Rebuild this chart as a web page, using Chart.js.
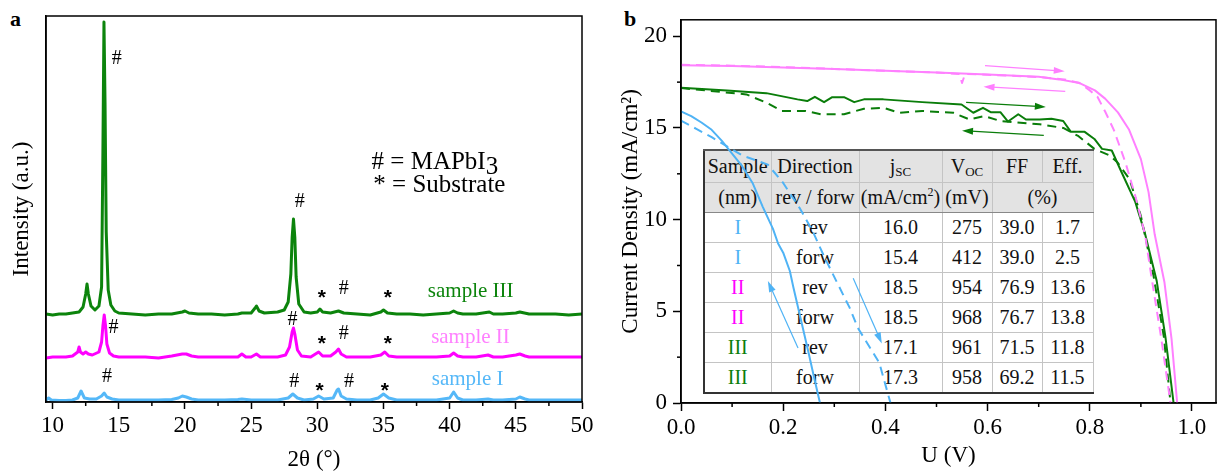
<!DOCTYPE html>
<html>
<head>
<meta charset="utf-8">
<script src="https://cdn.jsdelivr.net/npm/chart.js@4.4.0/dist/chart.umd.min.js"></script>
<style>
  html, body { margin: 0; padding: 0; background: #fff; }
  body { width: 1221px; height: 474px; position: relative; overflow: hidden; font-family: "Liberation Serif", "Times New Roman", serif; }
  #wrapA { position: absolute; left: 0; top: 0; width: 610px; height: 474px; }
  #wrapB { position: absolute; left: 610px; top: 0; width: 611px; height: 474px; z-index: 2; }
  .panel { position: absolute; font-weight: bold; font-size: 22px; top: 6px; }
  #jvTable { position: absolute; left: 703px; top: 149px; z-index: 1; width: 389px; table-layout: fixed;
             border-collapse: collapse; font-size: 20px; background: #fff; color: #111; }
  #jvTable th, #jvTable td { border: 1px solid #c4c4c4; padding: 0; text-align: center; font-weight: normal; white-space: nowrap; overflow: hidden; }
  #jvTable thead th { background: #e3e3e3; }
  #jvTable tr.h1 th { height: 31px; }
  #jvTable tr.h2 th { height: 29px; border-bottom: 1.5px solid #888; }
  #jvTable tbody td { height: 29px; }
  #jvTable { border-top: 2px solid #555; border-left: 2px solid #333; border-bottom: 2px solid #333; border-right: 1.5px solid #888; }
  #jvTable sub { font-size: 13px; vertical-align: -3px; line-height: 0; }
  #jvTable sup { font-size: 12px; vertical-align: 8px; line-height: 0; }
</style>
</head>
<body>
<div class="panel" style="left:10px">a</div>
<div class="panel" style="left:624px">b</div>
<div id="wrapA"><canvas id="xrdChart" width="610" height="474"></canvas></div>
<div id="wrapB"><canvas id="jvChart" width="611" height="474"></canvas></div>
<table id="jvTable">
  <colgroup>
    <col style="width:67px"><col style="width:88px"><col style="width:83px">
    <col style="width:50px"><col style="width:50px"><col style="width:51px">
  </colgroup>
  <thead>
    <tr class="h1"><th>Sample</th><th>Direction</th><th>j<sub>SC</sub></th><th>V<sub>OC</sub></th><th>FF</th><th>Eff.</th></tr>
    <tr class="h2"><th>(nm)</th><th>rev / forw</th><th>(mA/cm<sup>2</sup>)</th><th>(mV)</th><th colspan="2">(%)</th></tr>
  </thead>
  <tbody id="jvBody"></tbody>
</table>
<script>
// ---- panel a: XRD patterns (2θ in degrees, intensity in a.u., traces already offset) ----
const xrdTicks = [10, 15, 20, 25, 30, 35, 40, 45, 50];
const xrdMinor = [12.5, 17.5, 22.5, 27.5, 32.5, 37.5, 42.5, 47.5];

const s3Angle = [9.5, 10, 10.5, 11, 11.5, 12, 12.3, 12.5, 12.6, 12.7, 12.9, 13.2, 13.5, 13.7, 13.8, 13.88, 13.96, 14.05, 14.2, 14.4,
  14.7, 15, 16, 17, 18, 19, 19.8, 20, 20.3, 21, 22, 23, 24, 24.3, 25, 25.3, 25.4, 25.6, 26, 27,
  27.5, 27.8, 28.0, 28.1, 28.2, 28.3, 28.4, 28.6, 29, 29.5, 30, 30.2, 30.4, 31, 31.6, 32, 33, 34, 34.8, 35.0,
  35.3, 36, 37, 38, 39, 40, 40.3, 40.6, 41, 42, 43, 43.3, 44, 45, 45.3, 46, 47, 48, 49, 50];
const s3Int = [88, 87, 88, 88, 89, 90, 95, 108, 118, 108, 96, 92, 96, 115, 250, 380, 300, 170, 112, 97,
  91, 89, 88, 87, 88, 88, 90, 91, 89, 88, 88, 87, 88, 89, 89, 94, 96, 91, 89, 90,
  92, 100, 128, 165, 183, 165, 125, 98, 90, 89, 90, 93, 90, 89, 91, 89, 88, 87, 90, 92,
  89, 88, 88, 87, 88, 89, 91, 89, 88, 88, 90, 88, 88, 89, 90, 88, 88, 88, 87, 88];

const s2Angle = [9.5, 10, 11, 11.5, 11.9, 12.0, 12.1, 12.3, 12.5, 12.7, 13.0, 13.5, 13.7, 13.8, 13.9, 14.0, 14.1, 14.3, 14.6, 15,
  16, 17, 18, 19, 19.8, 20.1, 20.5, 21, 22, 23, 24, 24.3, 24.6, 25, 25.4, 25.7, 26, 27, 27.6, 27.9,
  28.1, 28.2, 28.3, 28.5, 28.8, 29.5, 30.1, 30.4, 31, 31.4, 31.6, 31.8, 32.2, 33, 34, 34.8, 35.1, 35.4, 36, 37,
  38, 39, 40, 40.3, 40.6, 41, 42, 42.9, 43.3, 44, 45, 45.3, 45.7, 46, 47, 48, 49, 50];
const s2Int = [44, 45, 45, 46, 50, 55, 50, 48, 50, 48, 47, 50, 60, 76, 87, 76, 58, 49, 46, 45,
  45, 45, 44, 46, 48, 48, 46, 45, 45, 45, 45, 48, 45, 45, 48, 45, 45, 45, 47, 55,
  70, 74, 68, 52, 46, 45, 50, 46, 46, 50, 53, 48, 45, 45, 45, 47, 50, 46, 45, 45,
  45, 45, 46, 49, 46, 45, 45, 47, 45, 45, 47, 48, 46, 45, 45, 45, 45, 45];

const s1Angle = [9.5, 9.7, 9.9, 10.5, 11, 11.5, 11.9, 12.15, 12.4, 12.8, 13.3, 13.7, 13.9, 14.1, 14.5, 15, 16, 17, 18, 19,
  19.5, 19.8, 20.1, 20.5, 21, 22, 23, 24, 24.3, 25, 26, 27, 27.8, 28.15, 28.5, 29, 29.7, 30.1, 30.5, 31.2,
  31.5, 31.6, 31.8, 32.2, 33, 34, 34.6, 35.0, 35.4, 36, 37, 38, 39, 40.0, 40.3, 40.6, 41, 42, 42.9, 43.3,
  44, 45, 45.3, 45.7, 46, 47, 48, 49, 50];
const s1Int = [2, 4, 2, 1.5, 1.5, 2, 4, 11, 4, 3, 3, 6, 9, 5, 3, 2, 2, 2, 2, 2.5,
  4, 6, 5, 3, 2, 2, 2, 2.5, 3, 2, 2, 2, 4, 8, 4, 2, 3, 6, 3, 4,
  12, 13, 6, 3, 2, 2, 4, 8, 4, 2, 2, 2, 2, 4, 10, 4, 2, 2, 3, 2,
  2, 3, 5, 3, 2, 2, 2, 2, 2];

// ---- panel b: J-V curves (U in V, J in mA/cm2) ----
const jvXTicks = [0, 0.2, 0.4, 0.6, 0.8, 1.0];
const jvXMinor = [0.1, 0.3, 0.5, 0.7, 0.9];
const jvYTicks = [0, 5, 10, 15, 20];
const jvYMinor = [2.5, 7.5, 12.5, 17.5];

const blueSolidU = [0, 0.02, 0.04, 0.06, 0.08, 0.10, 0.12, 0.14, 0.16, 0.18, 0.19, 0.20, 0.213, 0.22, 0.23, 0.24, 0.25, 0.26, 0.272];
const blueSolidJ = [15.9, 15.65, 15.3, 14.9, 14.3, 13.6, 12.9, 12.0, 10.7, 9.5, 8.7, 8.2, 7.2, 6.3, 5.1, 3.9, 2.7, 1.45, 0];
const blueDashU = [0, 0.03, 0.06, 0.09, 0.12, 0.15, 0.17, 0.20, 0.233, 0.258, 0.28, 0.304, 0.33, 0.346, 0.357, 0.388, 0.41];
const blueDashJ = [15.4, 14.95, 14.5, 14.0, 13.5, 13.2, 13.0, 12.0, 10.6, 9.35, 8.0, 6.65, 5.2, 4.1, 3.6, 2.2, 0];

const pinkSolidU = [0, 0.1, 0.2, 0.3, 0.4, 0.5, 0.6, 0.7, 0.74, 0.78, 0.81, 0.83, 0.855, 0.877, 0.9, 0.915, 0.927, 0.946, 0.96, 0.971];
const pinkSolidJ = [18.42, 18.38, 18.3, 18.22, 18.12, 18.02, 17.92, 17.8, 17.65, 17.45, 17.05, 16.6, 15.85, 14.9, 13.3, 11.5, 9.2, 6.6, 3.5, 0];
const pinkDashU = [0, 0.1, 0.2, 0.3, 0.4, 0.5, 0.545, 0.55, 0.556, 0.6, 0.7, 0.75, 0.78, 0.80, 0.815, 0.83, 0.847, 0.87, 0.889, 0.908, 0.92, 0.94, 0.958];
const pinkDashJ = [18.45, 18.4, 18.32, 18.22, 18.12, 18.02, 17.95, 17.45, 17.95, 17.9, 17.78, 17.65, 17.45, 17.05, 16.7, 15.9, 14.9, 13.1, 11.3, 9.2, 7.0, 3.5, 0];

const greenSolidU = [0, 0.09, 0.167, 0.228, 0.247, 0.262, 0.28, 0.296, 0.319, 0.339, 0.358, 0.396, 0.472, 0.549, 0.572, 0.591, 0.606, 0.625,
  0.64, 0.66, 0.675, 0.702, 0.725, 0.748, 0.763, 0.79, 0.809, 0.824, 0.843, 0.862, 0.889, 0.908, 0.931, 0.948, 0.964];
const greenSolidJ = [17.2, 17.04, 16.9, 16.56, 16.47, 16.7, 16.41, 16.68, 16.68, 16.41, 16.56, 16.56, 16.41, 16.28, 15.83, 16.1, 15.86, 15.86,
  15.35, 15.75, 15.46, 15.46, 15.5, 15.38, 14.79, 14.79, 14.4, 13.86, 13.77, 12.6, 10.97, 9.25, 6.65, 3.6, 0];
const greenDashU = [0, 0.128, 0.167, 0.197, 0.243, 0.274, 0.319, 0.358, 0.396, 0.427, 0.472, 0.533, 0.564, 0.594, 0.625, 0.702, 0.748,
  0.778, 0.809, 0.839, 0.854, 0.878, 0.9, 0.925, 0.945, 0.958];
const greenDashJ = [17.18, 16.83, 16.38, 15.93, 15.93, 15.75, 15.75, 16.05, 16.1, 15.83, 15.93, 15.83, 15.47, 15.65, 15.38, 15.2, 15.0,
  14.55, 13.86, 13.5, 13.13, 12.2, 10.2, 6.9, 3.6, 0];

// table values
const tabSample = ['I', 'I', 'II', 'II', 'III', 'III'];
const tabDir = ['rev', 'forw', 'rev', 'forw', 'rev', 'forw'];
const tabJsc = ['16.0', '15.4', '18.5', '18.5', '17.1', '17.3'];
const tabVoc = ['275', '412', '954', '968', '961', '958'];
const tabFF = ['39.0', '39.0', '76.9', '76.7', '71.5', '69.2'];
const tabEff = ['1.7', '2.5', '13.6', '13.8', '11.8', '11.5'];

const GREEN = '#0c840c';
const MAGENTA = '#ff00ff';
const BLUE = '#55b8f8';
const PINK = '#ff80ff';
const GREEN_B = '#0a7d0a';
const BLUE_B = '#4fb3f5';
const SERIF = '"Liberation Serif", "Times New Roman", serif';

function pts(xs, ys) {
    return xs.map((x, i) => ({ x: x, y: ys[i] }));
}

// box around the plot area
const framePlugin = {
    id: 'frame',
    afterDraw(chart) {
        const { ctx, chartArea: a } = chart;
        ctx.save();
        ctx.strokeStyle = '#000';
        ctx.lineWidth = 1.5;
        ctx.strokeRect(a.left, a.top, a.right - a.left, a.bottom - a.top);
        ctx.restore();
    }
};

// short outward ticks between the labelled ones
const minorTickPlugin = {
    id: 'minorTicks',
    afterDraw(chart, args, opts) {
        const { ctx, chartArea: a, scales } = chart;
        ctx.save();
        ctx.strokeStyle = '#000';
        ctx.lineWidth = 1.5;
        (opts.x || []).forEach(v => {
            const px = scales.x.getPixelForValue(v);
            ctx.beginPath(); ctx.moveTo(px, a.bottom); ctx.lineTo(px, a.bottom + opts.len); ctx.stroke();
        });
        (opts.y || []).forEach(v => {
            const py = scales.y.getPixelForValue(v);
            ctx.beginPath(); ctx.moveTo(a.left, py); ctx.lineTo(a.left - opts.len, py); ctx.stroke();
        });
        ctx.restore();
    }
};

// text notes placed in data coordinates
const notesPlugin = {
    id: 'notes',
    afterDatasetsDraw(chart, args, opts) {
        const { ctx, scales } = chart;
        ctx.save();
        (opts.items || []).forEach(n => {
            let px = scales.x.getPixelForValue(n.x);
            const py = scales.y.getPixelForValue(n.y);
            ctx.fillStyle = n.color || '#000';
            if (n.star) {
                ctx.font = 'bold 21px "Liberation Sans", Arial, sans-serif';
                ctx.textAlign = 'center';
                ctx.textBaseline = 'alphabetic';
                ctx.fillText('*', px, py + 12);
                return;
            }
            ctx.font = (n.size || 20) + 'px ' + SERIF;
            ctx.textAlign = n.align || 'center';
            ctx.textBaseline = 'middle';
            ctx.fillText(n.text, px, py);
            if (n.sub) {
                px += ctx.measureText(n.text).width;
                ctx.textAlign = 'left';
                ctx.fillText(n.sub, px, py + 5);
            }
        });
        ctx.restore();
    }
};

// thin arrows showing scan direction
const arrowPlugin = {
    id: 'arrows',
    afterDatasetsDraw(chart, args, opts) {
        const { ctx, scales } = chart;
        ctx.save();
        (opts.items || []).forEach(ar => {
            const x0 = scales.x.getPixelForValue(ar.from[0]), y0 = scales.y.getPixelForValue(ar.from[1]);
            const x1 = scales.x.getPixelForValue(ar.to[0]), y1 = scales.y.getPixelForValue(ar.to[1]);
            const ang = Math.atan2(y1 - y0, x1 - x0);
            const hl = 11, hw = 3.5;
            ctx.strokeStyle = ar.color;
            ctx.fillStyle = ar.color;
            ctx.lineWidth = 1.2;
            ctx.beginPath();
            ctx.moveTo(x0, y0);
            ctx.lineTo(x1 - Math.cos(ang) * hl * 0.8, y1 - Math.sin(ang) * hl * 0.8);
            ctx.stroke();
            ctx.beginPath();
            ctx.moveTo(x1, y1);
            ctx.lineTo(x1 - Math.cos(ang) * hl - Math.sin(ang) * hw, y1 - Math.sin(ang) * hl + Math.cos(ang) * hw);
            ctx.lineTo(x1 - Math.cos(ang) * hl + Math.sin(ang) * hw, y1 - Math.sin(ang) * hl - Math.cos(ang) * hw);
            ctx.closePath();
            ctx.fill();
        });
        ctx.restore();
    }
};

function axisCommon(ticks) {
    return {
        type: 'linear',
        afterBuildTicks: s => { s.ticks = ticks.map(v => ({ value: v })); },
        grid: { drawOnChartArea: false, drawTicks: true, tickLength: 7, tickColor: '#000', tickWidth: 1.5 },
        border: { display: true, color: '#000', width: 1.5 },
        ticks: { color: '#000', font: { family: SERIF, size: 23 }, autoSkip: false, maxRotation: 0, padding: 3 }
    };
}

function createXrdChart() {
    const xAxis = axisCommon(xrdTicks);
    xAxis.min = 9.5;
    xAxis.max = 50;
    xAxis.afterFit = s => { s.height = 72; };
    xAxis.title = { display: true, text: '2θ (°)', color: '#000', font: { family: SERIF, size: 23 }, padding: { top: 0, bottom: 0 } };

    const lineStyle = { showLine: true, pointRadius: 0, borderWidth: 3, borderJoinStyle: 'round', tension: 0 };

    new Chart(document.getElementById('xrdChart'), {
        type: 'scatter',
        data: {
            datasets: [
                Object.assign({ label: 'sample I', data: pts(s1Angle, s1Int), borderColor: BLUE }, lineStyle),
                Object.assign({ label: 'sample II', data: pts(s2Angle, s2Int), borderColor: MAGENTA }, lineStyle),
                Object.assign({ label: 'sample III', data: pts(s3Angle, s3Int), borderColor: GREEN }, lineStyle)
            ]
        },
        options: {
            responsive: false,
            animation: false,
            layout: { padding: { top: 16, right: 28, left: 0, bottom: 0 } },
            plugins: {
                legend: { display: false },
                tooltip: { enabled: false },
                minorTicks: { x: xrdMinor, len: 4 },
                notes: {
                    items: [
                        { text: '#', x: 14.84, y: 343 },
                        { text: '#', x: 28.68, y: 200 },
                        { text: '# = MAPbI', sub: '3', x: 34.1, y: 240, size: 25, align: 'left' },
                        { text: '* = Substrate', x: 34.23, y: 217, size: 25, align: 'left' },
                        { star: true, x: 30.34, y: 110 },
                        { text: '#', x: 32.0, y: 113 },
                        { star: true, x: 35.33, y: 110 },
                        { text: 'sample III', x: 38.35, y: 111, size: 21, align: 'left', color: GREEN },
                        { text: '#', x: 14.6, y: 74 },
                        { text: '#', x: 28.12, y: 82 },
                        { star: true, x: 30.34, y: 64 },
                        { text: '#', x: 32.0, y: 68 },
                        { star: true, x: 35.33, y: 64 },
                        { text: 'sample II', x: 38.6, y: 65, size: 21, align: 'left', color: PINK },
                        { text: '#', x: 14.1, y: 25 },
                        { text: '#', x: 28.26, y: 20 },
                        { star: true, x: 30.18, y: 17 },
                        { text: '#', x: 32.39, y: 20 },
                        { star: true, x: 35.1, y: 17 },
                        { text: 'sample I', x: 38.65, y: 23, size: 21, align: 'left', color: BLUE }
                    ]
                }
            },
            scales: {
                x: xAxis,
                y: {
                    type: 'linear',
                    min: 0,
                    max: 386,
                    afterFit: s => { s.width = 46; },
                    ticks: { display: false },
                    grid: { display: false },
                    border: { display: true, color: '#000', width: 1.5 },
                    title: { display: true, text: 'Intensity (a.u.)', color: '#000', font: { family: SERIF, size: 23 }, padding: { top: 8, bottom: 0 } }
                }
            }
        },
        plugins: [framePlugin, minorTickPlugin, notesPlugin]
    });
}

function createJvChart() {
    const xAxis = axisCommon(jvXTicks);
    xAxis.min = 0;
    xAxis.max = 1.047;
    xAxis.afterFit = s => { s.height = 71; };
    xAxis.ticks.callback = v => v.toFixed(1);
    xAxis.grid.tickLength = 8;
    xAxis.title = { display: true, text: 'U (V)', color: '#000', font: { family: SERIF, size: 23 }, padding: { top: 0, bottom: 4 } };

    const yAxis = axisCommon(jvYTicks);
    yAxis.min = 0;
    yAxis.max = 20.9;
    yAxis.afterFit = s => { s.width = 71; };
    yAxis.grid.tickLength = 8;
    yAxis.ticks.padding = 6;
    yAxis.title = { display: true, text: 'Current Density (mA/cm²)', color: '#000', font: { family: SERIF, size: 23 }, padding: { top: 7, bottom: 0 } };

    const solid = { showLine: true, pointRadius: 0, borderWidth: 2, tension: 0, borderJoinStyle: 'round' };
    const dashed = Object.assign({}, solid, { borderDash: [9, 6] });

    new Chart(document.getElementById('jvChart'), {
        type: 'scatter',
        data: {
            datasets: [
                Object.assign({ label: 'I solid', data: pts(blueSolidU, blueSolidJ), borderColor: BLUE_B }, solid),
                Object.assign({ label: 'I dashed', data: pts(blueDashU, blueDashJ), borderColor: BLUE_B }, dashed),
                Object.assign({ label: 'II solid', data: pts(pinkSolidU, pinkSolidJ), borderColor: PINK }, solid),
                Object.assign({ label: 'II dashed', data: pts(pinkDashU, pinkDashJ), borderColor: PINK }, dashed),
                Object.assign({ label: 'III solid', data: pts(greenSolidU, greenSolidJ), borderColor: GREEN_B }, solid),
                Object.assign({ label: 'III dashed', data: pts(greenDashU, greenDashJ), borderColor: GREEN_B }, dashed)
            ]
        },
        options: {
            responsive: false,
            animation: false,
            layout: { padding: { top: 16, right: 5, left: 0, bottom: 0 } },
            plugins: {
                legend: { display: false },
                tooltip: { enabled: false },
                minorTicks: { x: jvXMinor, y: jvYMinor, len: 4 },
                arrows: {
                    items: [
                        { from: [0.595, 18.4], to: [0.751, 18.1], color: PINK },
                        { from: [0.752, 17.0], to: [0.592, 17.25], color: PINK },
                        { from: [0.558, 16.4], to: [0.714, 16.15], color: GREEN_B },
                        { from: [0.71, 14.6], to: [0.55, 14.85], color: GREEN_B },
                        { from: [0.229, 3.0], to: [0.170, 6.65], color: BLUE_B },
                        { from: [0.337, 6.8], to: [0.393, 3.25], color: BLUE_B }
                    ]
                }
            },
            scales: { x: xAxis, y: yAxis }
        },
        plugins: [framePlugin, minorTickPlugin, arrowPlugin]
    });
}

function fillTable() {
    const colors = { 'I': BLUE_B, 'II': MAGENTA, 'III': GREEN_B };
    const body = document.getElementById('jvBody');
    body.innerHTML = tabSample.map((s, i) =>
        '<tr><td style="color:' + colors[s] + '">' + s + '</td><td>' + tabDir[i] + '</td><td>' + tabJsc[i] +
        '</td><td>' + tabVoc[i] + '</td><td>' + tabFF[i] + '</td><td>' + tabEff[i] + '</td></tr>'
    ).join('');
}

document.addEventListener('DOMContentLoaded', () => {
    fillTable();
    createXrdChart();
    createJvChart();
});
</script>
</body>
</html>
